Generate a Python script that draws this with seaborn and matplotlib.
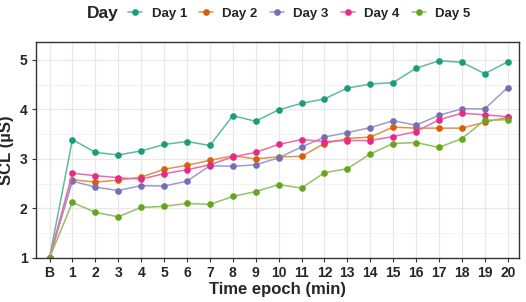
import numpy as np
import pandas as pd
import matplotlib
matplotlib.use("Agg")
import matplotlib.pyplot as plt
import matplotlib.colors as mcolors
from matplotlib.ticker import MultipleLocator
import seaborn as sns

epochs = ["B"] + [str(i) for i in range(1, 21)]
days = ["Day 1", "Day 2", "Day 3", "Day 4", "Day 5"]

day1 = [1.0, 3.39, 3.13, 3.08, 3.16, 3.29, 3.35, 3.27, 3.87, 3.76, 3.99,
        4.12, 4.21, 4.43, 4.51, 4.54, 4.83, 4.98, 4.95, 4.72, 4.96]
day2 = [1.0, 2.58, 2.53, 2.57, 2.63, 2.79, 2.87, 2.97, 3.06, 3.00, 3.04,
        3.05, 3.31, 3.41, 3.44, 3.64, 3.62, 3.62, 3.62, 3.74, 3.84]
day3 = [1.0, 2.55, 2.43, 2.36, 2.46, 2.45, 2.55, 2.86, 2.85, 2.88, 3.02,
        3.24, 3.44, 3.53, 3.63, 3.77, 3.68, 3.88, 4.01, 4.01, 4.44]
day4 = [1.0, 2.71, 2.66, 2.62, 2.59, 2.70, 2.78, 2.88, 3.04, 3.13, 3.29,
        3.39, 3.35, 3.37, 3.37, 3.45, 3.55, 3.79, 3.92, 3.89, 3.85]
day5 = [1.0, 2.12, 1.92, 1.83, 2.02, 2.04, 2.10, 2.08, 2.24, 2.34, 2.48,
        2.41, 2.72, 2.80, 3.10, 3.31, 3.33, 3.23, 3.41, 3.78, 3.79]

palette = ["#1B9E77", "#D95F02", "#7570B3", "#E7298A", "#66A61E"]

df = pd.DataFrame({
    "epoch": epochs * 5,
    "scl": day1 + day2 + day3 + day4 + day5,
    "day": np.repeat(days, len(epochs)),
})

sns.set_style("white")
plt.rcParams["font.family"] = ["Liberation Sans", "DejaVu Sans"]

fig = plt.figure(figsize=(5.26, 3.02), dpi=100)
ax = fig.add_axes([0.068, 0.146, 0.919, 0.715])

sns.lineplot(data=df, x="epoch", y="scl", hue="day", palette=palette,
             marker="o", markersize=4.8, markeredgewidth=0, linewidth=1.1,
             sort=False, ax=ax, legend=True)

# lighter connecting lines, solid points
for ln in ax.lines:
    c = ln.get_color()
    rgb = np.array(mcolors.to_rgb(c))
    light = rgb + (1 - rgb) * 0.3
    ln.set_markerfacecolor(c)
    ln.set_markeredgecolor(c)
    ln.set_color(light)

ax.set_xlim(-0.6, 20.5)
ax.set_ylim(1, 5.36)
ax.yaxis.set_major_locator(MultipleLocator(1))
ax.yaxis.set_minor_locator(MultipleLocator(0.5))
ax.grid(True, which="major", color="#e8e8e8", linewidth=0.9)
ax.grid(True, which="minor", axis="y", color="#f0f0f0", linewidth=0.6)
ax.set_axisbelow(True)

for s in ax.spines.values():
    s.set_color("#333333")
    s.set_linewidth(1.0)

ax.tick_params(axis="both", which="major", length=3, color="#333333",
               labelsize=10, pad=3, direction="out", bottom=True, left=True)
ax.tick_params(axis="y", which="minor", length=0)
for lbl in ax.get_xticklabels() + ax.get_yticklabels():
    lbl.set_fontweight("bold")

ax.set_xlabel("Time epoch (min)", fontsize=12, fontweight="bold", labelpad=1)
ax.set_ylabel("SCL (\u00b5S)", fontsize=12, fontweight="bold", labelpad=4)

handles, labels = ax.get_legend_handles_labels()
ax.legend_.remove()
fig.legend(handles, labels, loc="center left", bbox_to_anchor=(0.243, 0.955),
           ncol=5, frameon=False, handlelength=1.1, handletextpad=0.7,
           columnspacing=0.9, borderpad=0, borderaxespad=0,
           prop={"weight": "bold", "size": 9.5})
fig.text(0.165, 0.955, "Day", fontsize=12.5, fontweight="bold", va="center")

fig.savefig("out.png", dpi=100)
